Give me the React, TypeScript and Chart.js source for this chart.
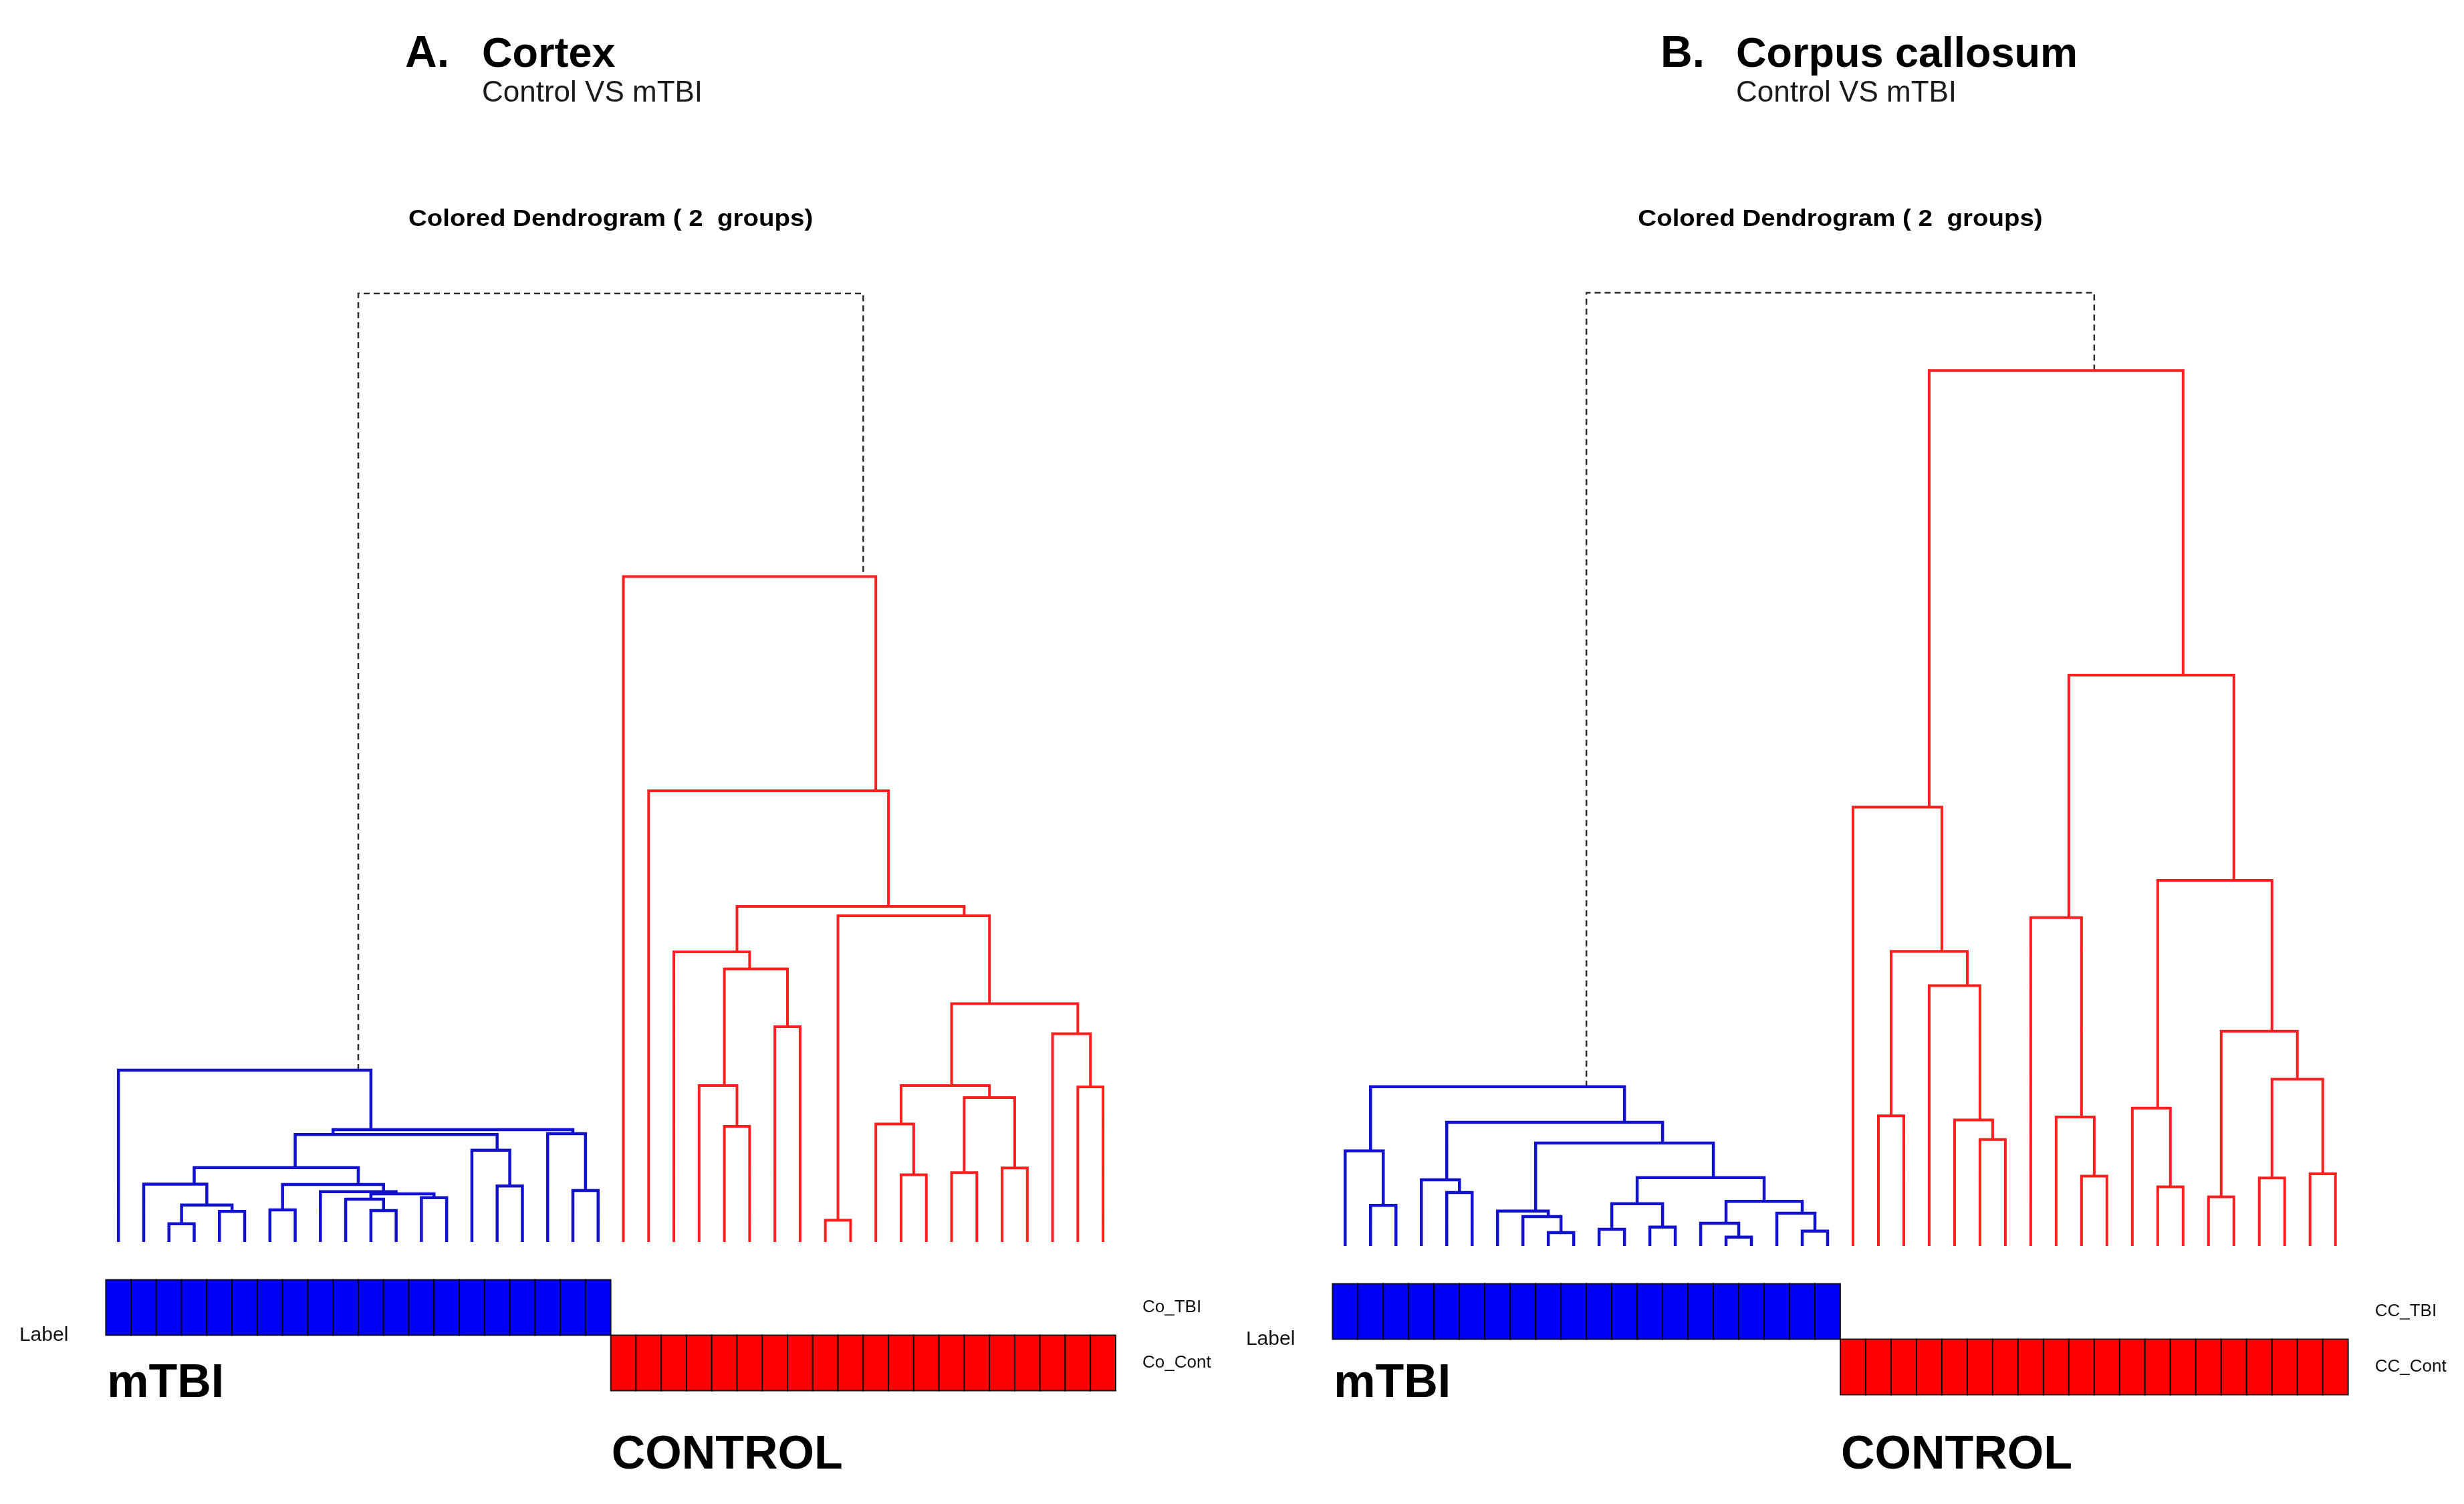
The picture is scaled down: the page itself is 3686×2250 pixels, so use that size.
import React, { useEffect, useRef } from "react";
import { Chart, registerables } from "chart.js";
Chart.register(...registerables);

// ---------------- DATA ----------------
// Merge tables in hclust style: negative = leaf (display order 1..40), positive = earlier merge row (1-based)
const cortexMerge: [number, number][] = [
  [-3, -4], [-5, -6], [1, 2], [-2, 3], [-7, -8], [-11, -12], [-10, 6], [-13, -14], [7, 8], [-9, 9],
  [5, 10], [4, 11], [-16, -17], [-15, 13], [12, 14], [-19, -20], [-18, 16], [15, 17], [-1, 18],
  [-25, -26], [-24, 20], [-27, -28], [21, 22], [-23, 23], [-29, -30], [-32, -33], [-31, 26], [-34, -35], [-36, -37],
  [28, 29], [27, 30], [-39, -40], [-38, 32], [31, 33], [25, 34], [24, 35], [-22, 36], [-21, 37],
  [19, 38],
];
const cortexHeight: number[] = [
  27.3, 45.7, 55.3, 86.5, 48, 47, 64, 66.3, 72, 75.3,
  86, 111.3, 83.7, 137.3, 160.7, 77, 162, 168, 257,
  173, 234, 322, 408.5, 434, 32.5, 100.4, 176.5, 103.8, 110.8,
  216, 234, 232, 311.5, 356.5, 488, 502, 675, 995.5,
  1419,
];
const cortexGroup: number[] = [
  0, 0, 0, 0, 0, 0, 0, 0, 0, 0, 0, 0, 0, 0, 0, 0, 0, 0, 0, 0,
  1, 1, 1, 1, 1, 1, 1, 1, 1, 1, 1, 1, 1, 1, 1, 1, 1, 1, 1, 1,
];

const ccMerge: [number, number][] = [
  [-2, -3], [-1, 1], [-5, -6], [-4, 3], [-9, -10], [-8, 5], [-7, 6], [-11, -12], [-13, -14], [8, 9],
  [-16, -17], [-15, 11], [-19, -20], [-18, 13], [12, 14], [10, 15], [7, 16], [4, 17], [2, 18],
  [-22, -23], [-26, -27], [-25, 21], [-24, 22], [20, 23], [-21, 24], [-30, -31], [-29, 26], [-28, 27], [-33, -34],
  [-32, 29], [-35, -36], [-37, -38], [-39, -40], [32, 33], [31, 34], [30, 35], [28, 36], [25, 37],
  [19, 38],
];
const ccHeight: number[] = [
  60.7, 142.3, 80, 99, 20, 44, 52.3, 25, 28.3, 63.3,
  13.3, 34, 22.3, 49, 66.7, 102.3, 154, 185, 238.3,
  194.7, 159.3, 188.5, 389.4, 440.7, 656.6, 104.4, 192.9, 491.2, 88.5,
  206.2, 73.5, 101.8, 108, 249.6, 321.2, 546.9, 853.9, 1309.7,
  1426,
];
const ccGroup: number[] = [
  0, 0, 0, 0, 0, 0, 0, 0, 0, 0, 0, 0, 0, 0, 0, 0, 0, 0, 0, 0,
  1, 1, 1, 1, 1, 1, 1, 1, 1, 1, 1, 1, 1, 1, 1, 1, 1, 1, 1, 1,
];

const groupNames: string[] = ["mTBI", "CONTROL"];
const cortexRowLabels: string[] = ["Co_TBI", "Co_Cont"];
const ccRowLabels: string[] = ["CC_TBI", "CC_Cont"];
const dendroTitle = "Colored Dendrogram ( 2  groups)";

// ---------------- STYLE / LAYOUT ----------------
const FONT = '"Liberation Sans", Arial, Helvetica, sans-serif';
const LINE_COLORS = ["#1212cc", "#ff1f1f"];
const CELL_COLORS = ["#0000f5", "#ff0000"];
const PAGE_W = 3686;
const PAGE_H = 2250;
const HALF_W = 1843;

type Panel = {
  left: number;
  pad: { left: number; right: number; top: number; bottom: number };
  letter: string;
  name: string;
  sub: string;
  letterX: number;
  nameX: number;
  merge: [number, number][];
  height: number[];
  group: number[];
  rowLabels: string[];
};

const panels: Panel[] = [
  {
    left: 0,
    pad: { left: 158.3, right: 174, top: 439, bottom: 392 },
    letter: "A.",
    name: "Cortex",
    sub: "Control VS mTBI",
    letterX: 606,
    nameX: 721,
    merge: cortexMerge,
    height: cortexHeight,
    group: cortexGroup,
    rowLabels: cortexRowLabels,
  },
  {
    left: HALF_W,
    pad: { left: 150.3, right: 173.3, top: 438, bottom: 386 },
    letter: "B.",
    name: "Corpus callosum",
    sub: "Control VS mTBI",
    letterX: 641,
    nameX: 754,
    merge: ccMerge,
    height: ccHeight,
    group: ccGroup,
    rowLabels: ccRowLabels,
  },
];

type Pt = { x: number; y: number | null };

function buildLinks(merge: [number, number][], height: number[], group: number[]) {
  const nodeX: number[] = [];
  const nodeLeaves: number[][] = [];
  const info = (c: number) =>
    c < 0
      ? { x: -c, h: 0, leaves: [-c] }
      : { x: nodeX[c - 1], h: height[c - 1], leaves: nodeLeaves[c - 1] };
  const out: Pt[][] = [[], [], []]; // group 0, group 1, upper (dashed)
  merge.forEach(([a, b], i) => {
    const A = info(a);
    const B = info(b);
    const leaves = [...A.leaves, ...B.leaves];
    nodeLeaves[i] = leaves;
    nodeX[i] = leaves.reduce((s, v) => s + v, 0) / leaves.length;
    const h = height[i];
    const key = i === merge.length - 1 ? 2 : group[leaves[0] - 1];
    out[key].push({ x: A.x, y: A.h }, { x: A.x, y: h }, { x: B.x, y: h }, { x: B.x, y: B.h }, { x: B.x, y: null });
  });
  return out;
}

function DendroPanel({ panel }: { panel: Panel }) {
  const ref = useRef<HTMLCanvasElement | null>(null);
  useEffect(() => {
    if (!ref.current) return;
    const links = buildLinks(panel.merge, panel.height, panel.group);
    const rootH = panel.height[panel.height.length - 1];
    const n = panel.group.length;

    const decor = {
      id: "decor" + panel.letter,
      afterDatasetsDraw(chart: any) {
        const { ctx, chartArea } = chart;
        const xs = chart.scales.x;
        const rowTop0 = chartArea.bottom + 56.5;
        const rowH = 83;
        ctx.save();
        // label cells
        for (let i = 0; i < n; i++) {
          const g = panel.group[i];
          const x0 = xs.getPixelForValue(i + 0.5);
          const x1 = xs.getPixelForValue(i + 1.5);
          const y0 = rowTop0 + g * rowH;
          ctx.fillStyle = CELL_COLORS[g];
          ctx.fillRect(x0, y0, x1 - x0, rowH);
          ctx.strokeStyle = "rgba(0,0,0,0.85)";
          ctx.lineWidth = 2;
          ctx.strokeRect(x0, y0, x1 - x0, rowH);
        }
        ctx.fillStyle = "#000";
        // title
        ctx.save();
        ctx.font = `bold 35px ${FONT}`;
        ctx.textAlign = "center";
        ctx.textBaseline = "alphabetic";
        ctx.translate((chartArea.left + chartArea.right) / 2, 338);
        ctx.scale(1.1, 1);
        ctx.fillText(dendroTitle, 0, 0);
        ctx.restore();
        // "Label"
        ctx.font = `30px ${FONT}`;
        ctx.textAlign = "right";
        ctx.textBaseline = "middle";
        ctx.fillStyle = "#111";
        ctx.fillText("Label", chartArea.left - 56, rowTop0 + rowH);
        // row labels
        ctx.font = `26px ${FONT}`;
        ctx.textAlign = "left";
        panel.rowLabels.forEach((t, g) => {
          ctx.fillText(t, chartArea.right + 40, rowTop0 + g * rowH + rowH / 2);
        });
        // group names
        ctx.fillStyle = "#000";
        ctx.font = `bold 70px ${FONT}`;
        ctx.textBaseline = "alphabetic";
        const firstCtrl = panel.group.indexOf(1) + 1;
        ctx.fillText(groupNames[0], xs.getPixelForValue(0.5) + 2, 2090);
        ctx.fillText(groupNames[1], xs.getPixelForValue(firstCtrl - 0.5) + 1, 2197);
        // headers
        ctx.font = `bold 66px ${FONT}`;
        ctx.fillText(panel.letter, panel.letterX, 100);
        ctx.font = `bold 63px ${FONT}`;
        ctx.fillText(panel.name, panel.nameX, 100);
        ctx.fillStyle = "#1a1a1a";
        ctx.font = `44px ${FONT}`;
        ctx.fillText(panel.sub, panel.nameX, 152);
        ctx.restore();
      },
    };

    const common = {
      showLine: true,
      pointRadius: 0,
      pointHoverRadius: 0,
      spanGaps: false,
      clip: false as any,
      borderCapStyle: "butt" as const,
      borderJoinStyle: "miter" as const,
    };

    const chart = new Chart(ref.current, {
      type: "scatter",
      data: {
        datasets: [
          { ...common, label: "mTBI", data: links[0] as any, borderColor: LINE_COLORS[0], borderWidth: 4.5 },
          { ...common, label: "Control", data: links[1] as any, borderColor: LINE_COLORS[1], borderWidth: 4 },
          { ...common, label: "upper", data: links[2] as any, borderColor: "#2a2a2a", borderWidth: 2.5, borderDash: [9, 6] },
        ],
      },
      options: {
        animation: false,
        responsive: false,
        maintainAspectRatio: false,
        layout: { padding: panel.pad },
        plugins: { legend: { display: false }, title: { display: false }, tooltip: { enabled: false } },
        events: [],
        scales: {
          x: { type: "linear", min: 0.5, max: n + 0.5, display: false },
          y: { type: "linear", min: 0, max: rootH, display: false },
        },
      },
      plugins: [decor],
    });
    return () => chart.destroy();
  }, [panel]);

  return (
    <canvas
      ref={ref}
      width={HALF_W}
      height={PAGE_H}
      style={{ position: "absolute", left: panel.left, top: 0, width: HALF_W, height: PAGE_H }}
    />
  );
}

export default function App() {
  return (
    <div style={{ position: "absolute", left: 0, top: 0, width: PAGE_W, height: PAGE_H, background: "#fff", overflow: "hidden" }}>
      {panels.map((p) => (
        <DendroPanel key={p.letter} panel={p} />
      ))}
    </div>
  );
}
